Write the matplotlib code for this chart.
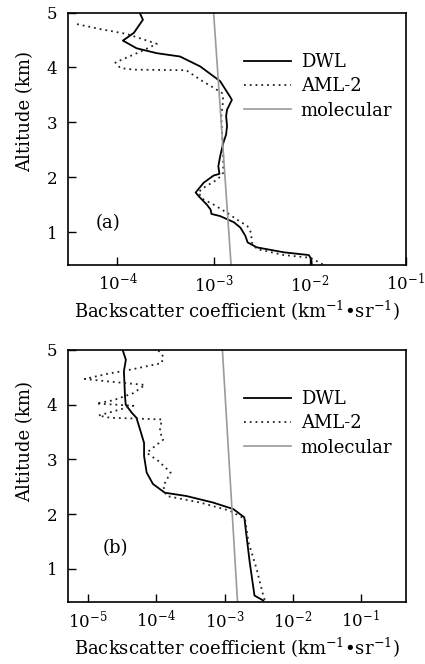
import matplotlib
matplotlib.use("Agg")
import matplotlib.pyplot as plt
import numpy as np

plt.rcParams['font.family'] = ['DejaVu Serif']
plt.rcParams['mathtext.fontset'] = 'dejavuserif'

# panel (a)
dwl_a_alt = [5.0, 4.87, 4.63, 4.49, 4.35, 4.26, 4.2, 4.02, 3.75, 3.47, 3.41, 3.23, 3.11, 2.93,
             2.78, 2.62, 2.38, 2.2, 2.06, 2.03, 1.9, 1.72, 1.63, 1.5, 1.41, 1.33, 1.29, 1.18,
             1.08, 0.93, 0.81, 0.72, 0.63, 0.58, 0.5, 0.4]
dwl_a = [1.70e-4, 1.84e-4, 1.48e-4, 1.14e-4, 1.58e-4, 2.57e-4, 4.47e-4, 7.24e-4, 1.17e-3,
         1.48e-3, 1.55e-3, 1.38e-3, 1.35e-3, 1.38e-3, 1.35e-3, 1.26e-3, 1.17e-3, 1.12e-3,
         1.15e-3, 1.0e-3, 7.9e-4, 6.5e-4, 7.2e-4, 8.5e-4, 9.3e-4, 9.5e-4, 1.17e-3, 1.62e-3,
         1.9e-3, 2.14e-3, 2.26e-3, 2.82e-3, 5.4e-3, 9.8e-3, 1.04e-2, 1.05e-2]
aml_a_alt = [4.79, 4.70, 4.61, 4.43, 4.29, 4.09, 3.99, 3.96, 3.95, 3.78, 3.63, 3.53, 3.41, 3.11,
             2.75, 2.40, 2.08, 1.96, 1.81, 1.72, 1.59, 1.5, 1.35, 1.23, 1.11, 0.99, 0.81, 0.69,
             0.58, 0.53, 0.4]
aml_a = [3.8e-5, 6.6e-5, 1.26e-4, 2.57e-4, 1.74e-4, 9.5e-5, 1.07e-4, 1.48e-4, 5.2e-4, 7.2e-4,
         1.0e-3, 1.23e-3, 1.26e-3, 1.2e-3, 1.23e-3, 1.26e-3, 1.26e-3, 1.1e-3, 7.9e-4, 6.9e-4,
         7.9e-4, 1.0e-3, 1.38e-3, 1.74e-3, 2.24e-3, 2.45e-3, 2.5e-3, 2.82e-3, 5.4e-3, 1.02e-2,
         1.4e-2]

# panel (b)
dwl_b_alt = [5.0, 4.82, 4.61, 4.15, 4.0, 3.85, 3.76, 3.55, 3.30, 3.06, 2.76, 2.55, 2.39, 2.33,
             2.21, 2.09, 1.94, 1.73, 1.12, 0.51, 0.42]
dwl_b = [3.2e-5, 3.57e-5, 3.34e-5, 3.47e-5, 3.55e-5, 4.37e-5, 5.1e-5, 5.75e-5, 6.6e-5, 6.6e-5,
         7.2e-5, 8.9e-5, 1.33e-4, 2.75e-4, 6.8e-4, 1.35e-3, 1.95e-3, 2.04e-3, 2.34e-3, 2.75e-3,
         3.7e-3]
aml_b_alt = [4.99, 4.88, 4.76, 4.65, 4.56, 4.47, 4.42, 4.36, 4.21, 4.08, 4.02, 3.98, 3.86, 3.80,
             3.76, 3.73, 3.51, 3.36, 3.12, 2.97, 2.76, 2.51, 2.33, 2.21, 2.06, 1.91, 1.49, 1.0,
             0.51, 0.42]
aml_b = [1.07e-4, 1.26e-4, 1.2e-4, 4.6e-5, 1.86e-5, 8.9e-6, 2.1e-5, 6.8e-5, 4.6e-5, 2.34e-5,
         1.32e-5, 4.6e-5, 2.1e-5, 1.41e-5, 2.1e-5, 1.2e-4, 1.12e-4, 1.26e-4, 7.2e-5, 1.07e-4,
         1.62e-4, 1.26e-4, 1.41e-4, 4.4e-4, 1.2e-3, 2.0e-3, 2.24e-3, 2.95e-3, 3.7e-3, 3.9e-3]

mol_alt = [0.4, 5.0]
mol_a = [1.52e-3, 1.0e-3]
mol_b = [1.55e-3, 0.93e-3]

xlabel = r'Backscatter coefficient (km$^{-1}$•sr$^{-1}$)'

fig = plt.figure(figsize=(4.25, 6.64), dpi=100)
ax1 = fig.add_axes([0.161, 0.601, 0.794, 0.380])
ax2 = fig.add_axes([0.161, 0.094, 0.794, 0.379])

panels = [
    (ax1, dwl_a_alt, dwl_a, aml_a_alt, aml_a, mol_a, (10**-4.51, 0.1), '(a)', (0.118, 0.166), 0.61),
    (ax2, dwl_b_alt, dwl_b, aml_b_alt, aml_b, mol_b, (10**-5.29, 10**-0.34), '(b)', (0.138, 0.212), 0.635),
]

for ax, da, d, aa, a, m, xl, tag, tpos, ylpos in panels:
    ax.plot(d, da, color='black', lw=1.3, label='DWL')
    ax.plot(a, aa, color='#222222', lw=1.3, ls=(0, (1, 2.2)), label='AML-2')
    ax.plot(m, mol_alt, color='#9a9a9a', lw=1.2, label='molecular')
    ax.set_xscale('log')
    ax.set_xlim(*xl)
    ax.set_ylim(0.4, 5)
    ax.set_yticks([1, 2, 3, 4, 5])
    ax.minorticks_off()
    ax.tick_params(direction='in', length=6, width=1, labelsize=12, pad=6)
    ax.tick_params(axis='y', pad=8)
    for s in ax.spines.values():
        s.set_linewidth(1.2)
    ax.set_ylabel('Altitude (km)', fontsize=13)
    ax.yaxis.set_label_coords(-0.10, ylpos)
    ax.set_xlabel(xlabel, fontsize=13, labelpad=3)
    ax.text(tpos[0], tpos[1], tag, transform=ax.transAxes, fontsize=13, ha='center', va='center')
    ax.legend(loc='center left', bbox_to_anchor=(0.52, 0.708), frameon=False, fontsize=13,
              handlelength=2.6, handletextpad=0.55, labelspacing=0.35, borderpad=0, borderaxespad=0)

fig.savefig('out.png', dpi=100)
